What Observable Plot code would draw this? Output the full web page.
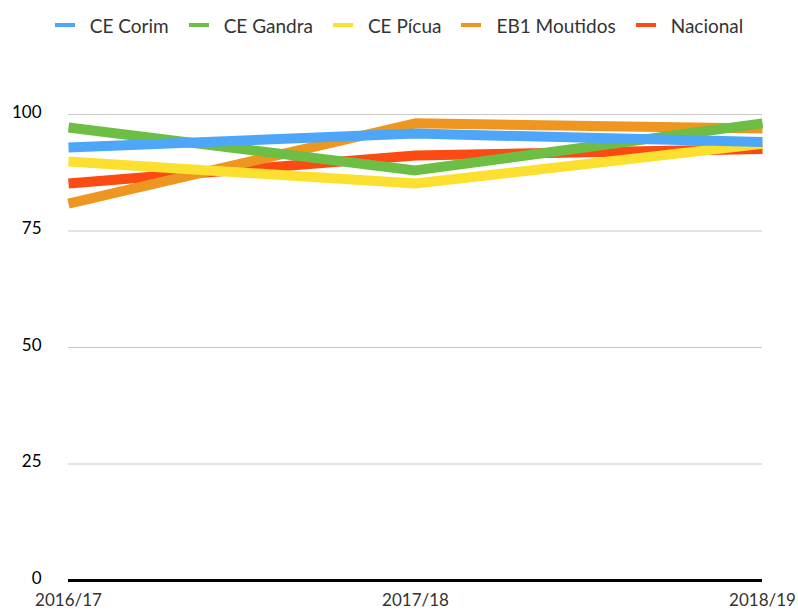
<!DOCTYPE html>
<html>
<head>
<meta charset="utf-8">
<script src="https://cdn.jsdelivr.net/npm/d3@7"></script>
<script src="https://cdn.jsdelivr.net/npm/@observablehq/plot@0.6"></script>
<style>
  html, body { margin: 0; padding: 0; background: #fff; }
  body { width: 798px; height: 612px; overflow: hidden; font-family: "Lato", "DejaVu Sans", sans-serif; }
  #legend { height: 50px; display: flex; justify-content: center; align-items: center; font-size: 19px; color: #333; }
  .item { display: flex; align-items: center; margin: 0 10px; }
  .sw { width: 20px; height: 4px; margin-right: 15px; }
</style>
</head>
<body>
<div id="legend"></div>
<div id="chart"></div>
<script>
const years = ["2016/17", "2017/18", "2018/19"];
const seriesNames = ["CE Corim", "CE Gandra", "CE Pícua", "EB1 Moutidos", "Nacional"];
const seriesColors = ["#4EA6F8", "#6DBE45", "#FCE02F", "#EE961F", "#FB4A12"];
const corim = [92.9, 95.9, 94.1];
const gandra = [97.2, 88.0, 98.1];
const picua = [89.9, 85.2, 93.7];
const moutidos = [80.9, 98.1, 97.0];
const nacional = [85.2, 91.2, 92.6];
const yTicks = [0, 25, 50, 75, 100];

const values = [corim, gandra, picua, moutidos, nacional];

// legend
const legend = document.getElementById("legend");
seriesNames.forEach((n, i) => {
  const it = document.createElement("div");
  it.className = "item";
  const sw = document.createElement("span");
  sw.className = "sw";
  sw.style.background = seriesColors[i];
  const t = document.createElement("span");
  t.textContent = n;
  it.appendChild(sw); it.appendChild(t);
  legend.appendChild(it);
});

const data = [];
seriesNames.forEach((n, i) => {
  years.forEach((y, j) => data.push({series: n, year: y, value: values[i][j]}));
});

// draw in reverse order so CE Corim is on top
const lineMarks = seriesNames.slice().reverse().map(n =>
  Plot.line(data.filter(d => d.series === n), {
    x: "year", y: "value", stroke: "series",
    strokeWidth: 10, strokeLinecap: "butt", strokeLinejoin: "miter"
  })
);

const chart = Plot.plot({
  width: 798,
  height: 562,
  marginLeft: 68,
  marginRight: 36,
  marginTop: 64,
  marginBottom: 32,
  style: { fontFamily: "Lato, 'DejaVu Sans', sans-serif", background: "#fff" },
  x: { type: "point", domain: years, padding: 0, label: null, axis: null },
  y: { domain: [0, 100], label: null, axis: null },
  color: { domain: seriesNames, range: seriesColors },
  marks: [
    Plot.gridY(yTicks.filter(v => v > 0), { stroke: "#c8c8c8", strokeOpacity: 1, strokeWidth: 1 }),
    Plot.ruleY([0], { stroke: "#000", strokeWidth: 3 }),
    ...lineMarks,
    Plot.axisY(yTicks, { tickSize: 0, tickPadding: 0, dx: -27, dy: -2, fontSize: 17, fill: "#000", label: null }),
    Plot.axisX(years, { tickSize: 0, tickPadding: 13, fontSize: 17, fill: "#333", label: null })
  ]
});
document.getElementById("chart").appendChild(chart);
</script>
</body>
</html>
